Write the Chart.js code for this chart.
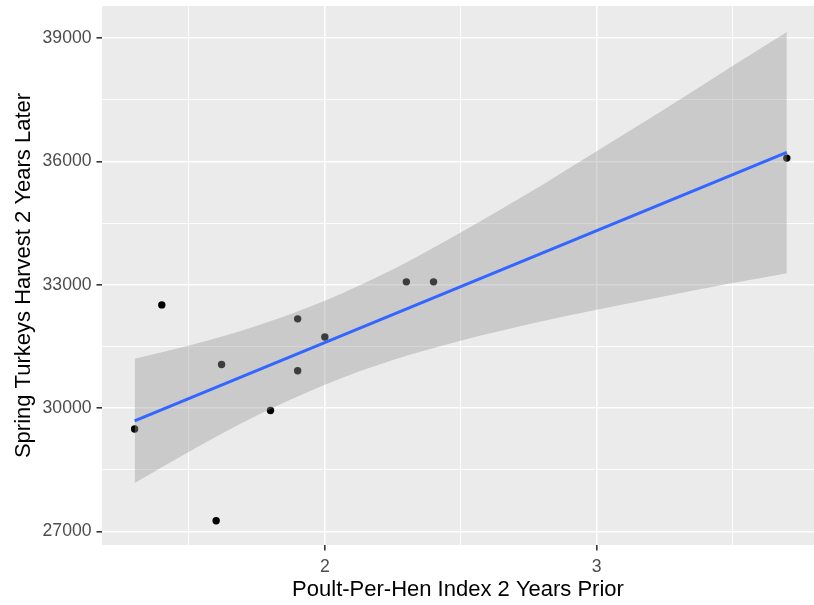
<!DOCTYPE html>
<html>
<head>
<meta charset="utf-8">
<script src="https://cdn.jsdelivr.net/npm/chart.js@4/dist/chart.umd.min.js"></script>
<style>
  body { margin: 0; background: #fff; }
  canvas { display: block; }
</style>
</head>
<body>
<canvas id="chart" width="814" height="605"></canvas>
<script>
// observed points
var pointX = [1.3, 1.4, 1.6, 1.62, 1.8, 1.9, 1.9, 2.0, 2.3, 2.4, 3.7];
var pointY = [29490, 32510, 27260, 31060, 29940, 32170, 30910, 31730, 33070, 33070, 36080];

// fitted line (lm) end points
var fitX = [1.3, 3.7];
var fitY = [29690, 36220];

// confidence band
var bandX = [1.3, 1.5, 1.75, 2.0, 2.25, 2.5, 2.75, 3.0, 3.25, 3.5, 3.7];
var bandLower = [28180, 28940, 29820, 30570, 31170, 31640, 32040, 32390, 32720, 33040, 33280];
var bandUpper = [31200, 31520, 32000, 32610, 33370, 34270, 35230, 36250, 37270, 38320, 39150];

// ticks
var xMajor = [2, 3];
var xMinor = [1.5, 2.5, 3.5];
var yMajor = [27000, 30000, 33000, 36000, 39000];
var yMinor = [28500, 31500, 34500, 37500];

function pairs(xs, ys) {
    return xs.map(function (x, i) { return { x: x, y: ys[i] }; });
}

function setTicks(major, minor) {
    return function (scale) {
        scale.ticks = major.concat(minor).sort(function (a, b) { return a - b; })
            .map(function (v) { return { value: v }; });
    };
}

// grey panel behind the grid
var panelBg = {
    id: 'panelBg',
    beforeDraw: function (chart) {
        var a = chart.chartArea;
        var ctx = chart.ctx;
        ctx.save();
        ctx.fillStyle = '#EBEBEB';
        ctx.fillRect(a.left, a.top, a.right - a.left, a.bottom - a.top);
        ctx.restore();
    }
};

function gridOpts(major) {
    return {
        color: '#FFFFFF',
        lineWidth: function (c) { return major.indexOf(c.tick.value) >= 0 ? 1.6 : 0.9; },
        tickColor: function (c) { return major.indexOf(c.tick.value) >= 0 ? '#333333' : 'rgba(0,0,0,0)'; },
        tickWidth: 1.6,
        tickLength: 5.5,
        drawTicks: true
    };
}

var tickFont = { family: 'Liberation Sans', size: 17.6 };
var titleFont = { family: 'Liberation Sans', size: 22 };

new Chart(document.getElementById('chart').getContext('2d'), {
    type: 'scatter',
    data: {
        datasets: [{
            label: 'fit',
            data: pairs(fitX, fitY),
            showLine: true,
            borderColor: '#3366FF',
            borderWidth: 3,
            pointRadius: 0,
            fill: false,
            order: 1
        }, {
            label: 'lower',
            data: pairs(bandX, bandLower),
            showLine: true,
            cubicInterpolationMode: 'monotone',
            borderWidth: 0,
            borderColor: 'rgba(0,0,0,0)',
            pointRadius: 0,
            fill: false,
            order: 2
        }, {
            label: 'upper',
            data: pairs(bandX, bandUpper),
            showLine: true,
            cubicInterpolationMode: 'monotone',
            borderWidth: 0,
            borderColor: 'rgba(0,0,0,0)',
            backgroundColor: 'rgba(153,153,153,0.4)',
            pointRadius: 0,
            fill: '-1',
            order: 2
        }, {
            label: 'points',
            data: pairs(pointX, pointY),
            pointRadius: 3.7,
            pointBackgroundColor: '#000000',
            pointBorderWidth: 0,
            order: 3
        }]
    },
    options: {
        responsive: false,
        animation: false,
        devicePixelRatio: 1,
        layout: { autoPadding: false, padding: { left: 0, right: 0, top: 6, bottom: 0 } },
        plugins: {
            legend: { display: false },
            tooltip: { enabled: false }
        },
        scales: {
            x: {
                type: 'linear',
                min: 1.18,
                max: 3.80,
                afterBuildTicks: setTicks(xMajor, xMinor),
                afterFit: function (s) {
                    s.height = 60;
                    s.paddingLeft = 0; s.paddingRight = 0;
                },
                border: { display: false },
                grid: gridOpts(xMajor),
                ticks: {
                    autoSkip: false,
                    maxRotation: 0,
                    padding: 6,
                    color: '#4D4D4D',
                    font: tickFont,
                    callback: function (v) { return xMajor.indexOf(v) >= 0 ? String(v) : ''; }
                },
                title: {
                    display: true,
                    text: 'Poult-Per-Hen Index 2 Years Prior',
                    color: '#000000',
                    font: titleFont,
                    padding: { top: 0, bottom: 1.5 }
                }
            },
            y: {
                type: 'linear',
                min: 26670,
                max: 39780,
                afterBuildTicks: setTicks(yMajor, yMinor),
                afterFit: function (s) {
                    s.width = 102;
                    s.paddingTop = 0; s.paddingBottom = 0;
                },
                border: { display: false },
                grid: gridOpts(yMajor),
                ticks: {
                    padding: 5,
                    color: '#4D4D4D',
                    font: tickFont,
                    callback: function (v) { return yMajor.indexOf(v) >= 0 ? String(v) : ''; }
                },
                title: {
                    display: true,
                    text: 'Spring Turkeys Harvest 2 Years Later',
                    color: '#000000',
                    font: titleFont,
                    padding: { top: 11, bottom: 0 }
                }
            }
        }
    },
    plugins: [panelBg]
});
</script>
</body>
</html>
